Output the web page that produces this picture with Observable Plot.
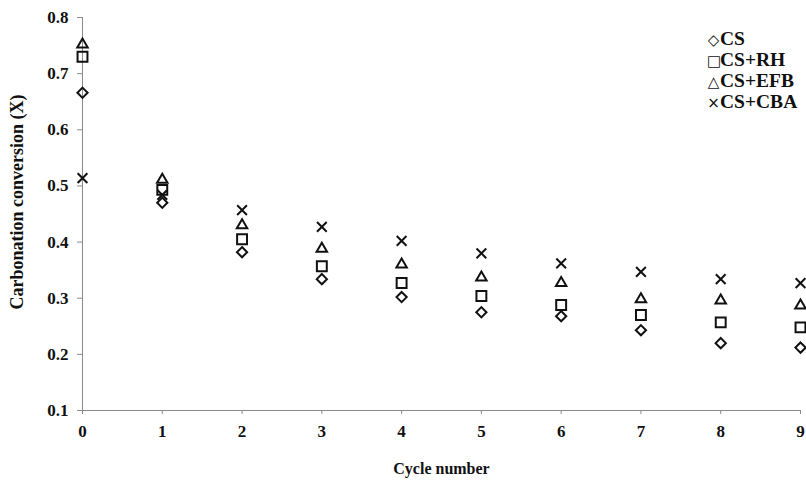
<!DOCTYPE html>
<html>
<head>
<meta charset="utf-8">
<script src="https://cdn.jsdelivr.net/npm/d3@7"></script>
<script src="https://cdn.jsdelivr.net/npm/@observablehq/plot@0.6"></script>
<style>
  html, body { margin: 0; padding: 0; background: #fff; }
  #chart { position: relative; width: 806px; height: 484px; font-family: "Liberation Serif", "Times New Roman", serif; overflow: hidden; }
  #legend { position: absolute; top: 29px; left: 707px; font-weight: bold; font-size: 19.5px; line-height: 19px; color: #111; white-space: nowrap; }
  #legend .sym { display: inline-block; width: 13px; font-family: "DejaVu Sans", sans-serif; font-weight: normal; font-size: 15px; text-align: center; }
</style>
</head>
<body>
<div id="chart"><div id="legend"></div></div>
<script>
const cycles = [0, 1, 2, 3, 4, 5, 6, 7, 8, 9];
const seriesNames = ["CS", "CS+RH", "CS+EFB", "CS+CBA"];
const seriesGlyphs = ["\u25C7", "\u25A1", "\u25B3", "\u00D7"];
const cs  = [0.666, 0.470, 0.382, 0.334, 0.302, 0.275, 0.268, 0.243, 0.220, 0.212];
const rh  = [0.730, 0.493, 0.405, 0.357, 0.327, 0.304, 0.288, 0.270, 0.257, 0.248];
const efb = [0.752, 0.511, 0.430, 0.388, 0.360, 0.337, 0.327, 0.298, 0.296, 0.287];
const cba = [0.514, 0.484, 0.457, 0.427, 0.402, 0.380, 0.362, 0.347, 0.334, 0.327];
const yTicks = [0.1, 0.2, 0.3, 0.4, 0.5, 0.6, 0.7, 0.8];

const seriesValues = [cs, rh, efb, cba];
const symbols = ["diamond2", "square2", "triangle2", "times"];
const radii = [4.6, 6.3, 5, 4.5];

const data = seriesNames.flatMap((name, i) =>
  cycles.map((c, j) => ({series: name, cycle: c, value: seriesValues[i][j]}))
);

const axisColor = "#8a8a8a";
const font = "Liberation Serif, Times New Roman, serif";

const plot = Plot.plot({
  width: 806,
  height: 484,
  marginLeft: 82,
  marginRight: 6,
  marginTop: 17,
  marginBottom: 74,
  style: {fontFamily: font, fontWeight: "bold", fontSize: "17px", color: "#111", background: "#fff"},
  x: {domain: [0, 9], ticks: cycles, label: null},
  y: {domain: [0.1, 0.8], ticks: yTicks, label: null},
  marks: [
    Plot.ruleX([0], {stroke: axisColor}),
    Plot.ruleY([0.1], {stroke: axisColor}),
    Plot.axisX({ticks: cycles, tickFormat: d3.format("d"), tickSize: 4, tickPadding: 10, stroke: axisColor, label: null, fontSize: 17}),
    Plot.axisY({ticks: yTicks, tickFormat: d3.format(".1f"), tickSize: 5, tickPadding: 9, stroke: axisColor, label: null, fontSize: 17}),
    ...seriesNames.map((name, i) =>
      Plot.dot(data.filter(d => d.series === name), {
        x: "cycle", y: "value", symbol: () => symbols[i], r: radii[i],
        stroke: "#111", strokeWidth: 2, fill: "none"
      })
    ),
    Plot.text(["Cycle number"], {frameAnchor: "bottom", dy: 63, fontSize: 16, fontWeight: "bold", fill: "#111"}),
    Plot.text(["Carbonation conversion (X)"], {frameAnchor: "left", textAnchor: "middle", dx: -65, dy: -12, rotate: -90, fontSize: 18, fontWeight: "bold", fill: "#111"})
  ]
});
document.getElementById("chart").prepend(plot);

const legend = document.getElementById("legend");
seriesNames.forEach((name, i) => {
  const row = document.createElement("div");
  const s = document.createElement("span");
  s.className = "sym";
  s.textContent = seriesGlyphs[i];
  row.appendChild(s);
  row.appendChild(document.createTextNode(name));
  legend.appendChild(row);
});
</script>
</body>
</html>
